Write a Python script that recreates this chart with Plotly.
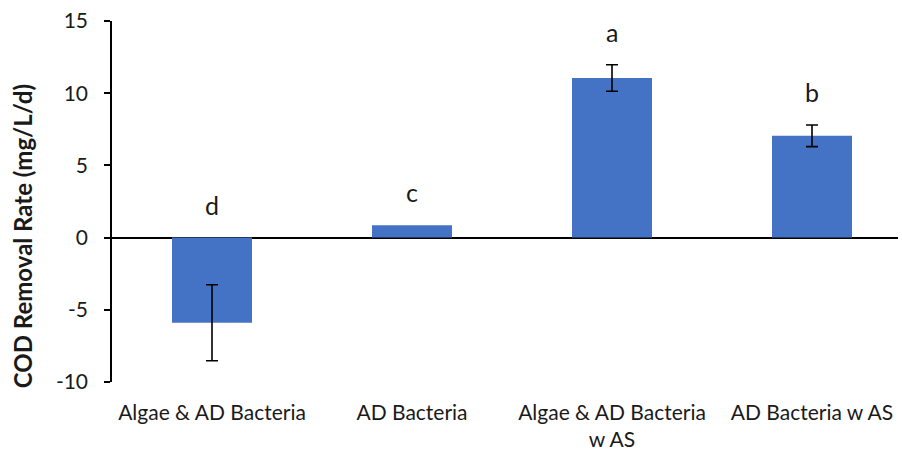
"""COD removal rate bar chart."""

import plotly.graph_objects as go

CATEGORIES = ["Algae & AD Bacteria", "AD Bacteria", "Algae & AD Bacteria<br>w AS", "AD Bacteria w AS"]
RATES = [-5.9, 0.85, 11.05, 7.05]
ERRORS = [2.63, None, 0.92, 0.75]
LETTERS = ["d", "c", "a", "b"]
Y_TICKS = [-10, -5, 0, 5, 10, 15]
Y_TICK_TEXT = ["-10", "-5", "0", "5", "10", "15"]

FONT = "Lato"
TEXT = "#1a1a1a"

fig = go.Figure()
fig.add_trace(
    go.Bar(
        x=CATEGORIES,
        y=RATES,
        marker=dict(color="#4472C4", line=dict(width=0)),
    )
)

# error bars only where one was reported (a zero-length bar would still draw a cap)
has_err = [i for i, e in enumerate(ERRORS) if e]
fig.add_trace(
    go.Scatter(
        x=[CATEGORIES[i] for i in has_err],
        y=[RATES[i] for i in has_err],
        mode="markers",
        marker=dict(size=1, opacity=0),
        error_y=dict(type="data", array=[ERRORS[i] for i in has_err], color="black", thickness=1.6, width=6),
        hoverinfo="skip",
    )
)

for cat, val, err, letter in zip(CATEGORIES, RATES, ERRORS, LETTERS):
    fig.add_annotation(
        x=cat,
        y=max(val + (err or 0), 0),
        text=letter,
        showarrow=False,
        yanchor="middle",
        yshift=33,
        font=dict(family=FONT, size=25, color=TEXT),
    )

fig.add_annotation(
    xref="paper",
    yref="paper",
    x=0,
    y=0.404,
    xshift=-90,
    text="<b>COD Removal Rate (mg/L/d)</b>",
    textangle=-90,
    showarrow=False,
    xanchor="center",
    yanchor="middle",
    font=dict(family=FONT, size=24, color=TEXT),
)

fig.update_layout(
    width=902,
    height=450,
    margin=dict(l=112, r=4, t=21, b=68),
    plot_bgcolor="white",
    paper_bgcolor="white",
    showlegend=False,
    bargap=0.6,
    font=dict(family=FONT, color=TEXT),
    xaxis=dict(
        range=[-0.5, 3.43],
        showgrid=False,
        showline=False,
        ticks="",
        automargin=False,
        tickfont=dict(family=FONT, size=21, color=TEXT),
        ticklabelstandoff=16,
    ),
    yaxis=dict(
        range=[-10, 15],
        tickvals=Y_TICKS,
        ticktext=Y_TICK_TEXT,
        automargin=False,
        showgrid=False,
        showline=True,
        linecolor="black",
        linewidth=1.5,
        ticks="outside",
        ticklen=6,
        tickwidth=1.5,
        tickcolor="black",
        zeroline=True,
        zerolinecolor="black",
        zerolinewidth=2,
        tickfont=dict(family=FONT, size=21, color=TEXT),
        ticklabelstandoff=12,
    ),
)

# the page body has a default 8px margin; drop it so the figure sits at 0,0
fig.write_html(
    "out.html",
    config={"displayModeBar": False},
    post_script="document.body.style.margin='0';",
)
